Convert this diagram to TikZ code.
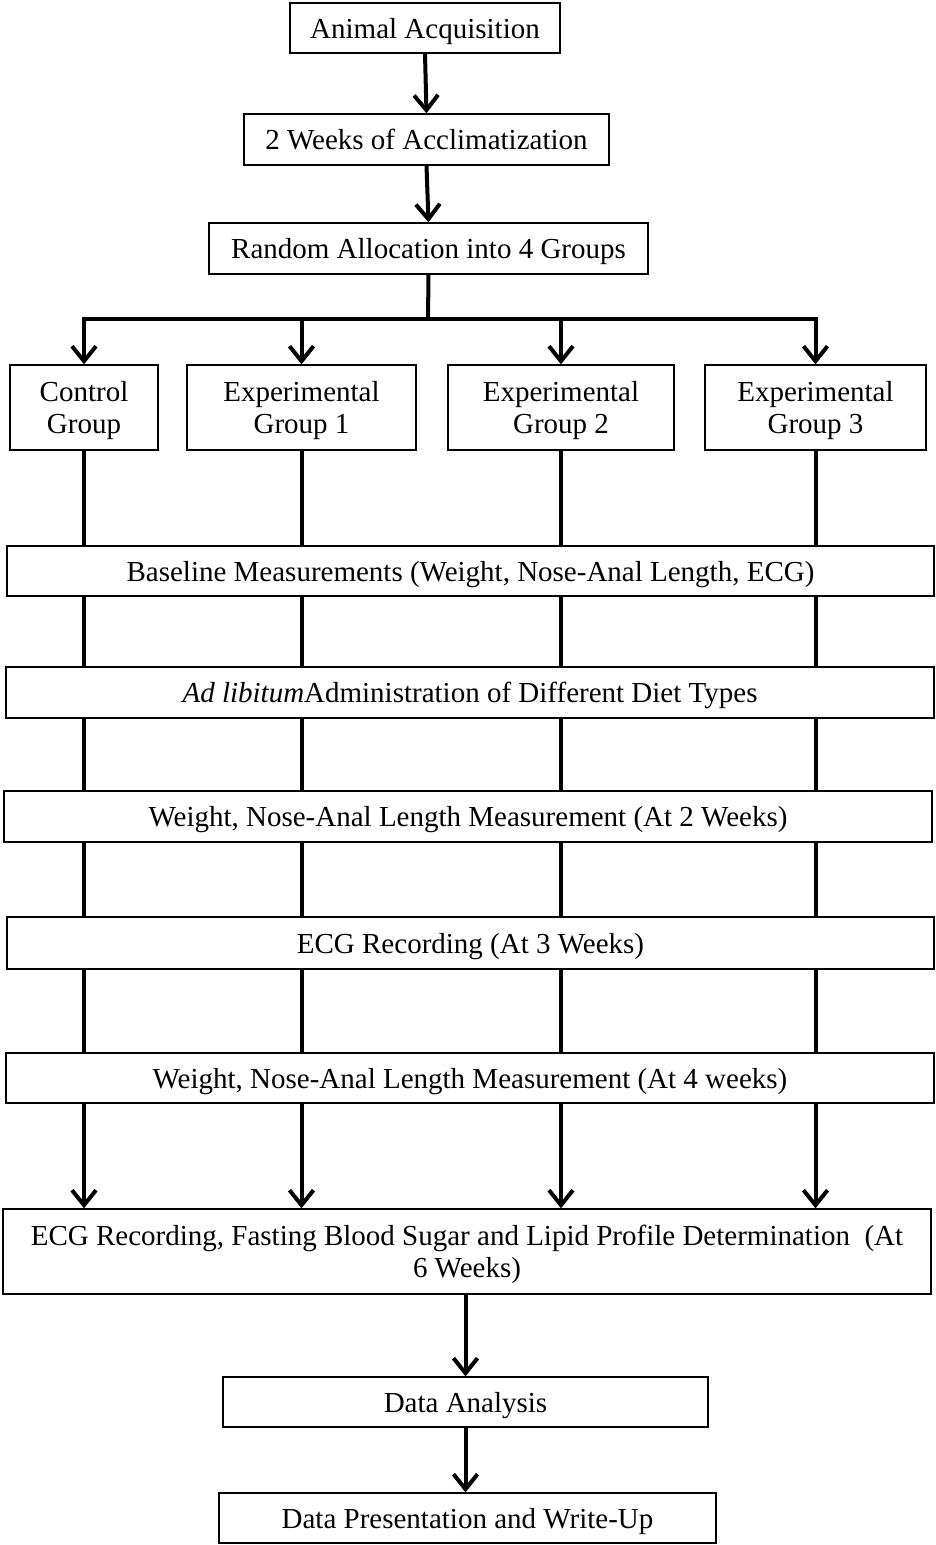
\documentclass[tikz,border=0pt]{standalone}
\usepackage{fontspec}
\setmainfont{Liberation Serif}
\usetikzlibrary{arrows.meta}
\begin{document}
\begin{tikzpicture}[x=1pt,y=-1pt,
  box/.style={draw, line width=1.3pt, inner sep=0pt, align=center, text depth=0pt, font=\fontsize{29}{32}\selectfont},
  conn/.style={line width=4pt},
  flow/.style={line width=4pt, -{Straight Barb[length=15pt,width=24pt,line width=4pt]}}]
\useasboundingbox (0,0) rectangle (935,1545);
\node[box, minimum width=270pt, minimum height=50pt] (acq)   at (425,28)      {Animal Acquisition};
\node[box, minimum width=365pt, minimum height=51pt] (accl)  at (426.5,139.5) {2 Weeks of Acclimatization};
\node[box, minimum width=439pt, minimum height=51pt] (rand)  at (428.5,248.5) {Random Allocation into 4 Groups};
\node[box, minimum width=148pt, minimum height=85pt] (ctrl)  at (84,407.5)    {Control\\Group};
\node[box, minimum width=229pt, minimum height=85pt] (g1)    at (301.5,407.5) {Experimental\\Group 1};
\node[box, minimum width=226pt, minimum height=85pt] (g2)    at (561,407.5)   {Experimental\\Group 2};
\node[box, minimum width=221pt, minimum height=85pt] (g3)    at (815.5,407.5) {Experimental\\Group 3};
\node[box, minimum width=927pt, minimum height=50pt] (base)  at (470.5,571)   {Baseline Measurements (Weight, Nose-Anal Length, ECG)};
\node[box, minimum width=928pt, minimum height=51pt] (adlib) at (470,692.5)   {\textit{Ad libitum}Administration of Different Diet Types};
\node[box, minimum width=928pt, minimum height=51pt] (w2)    at (468,816.5)   {Weight, Nose-Anal Length Measurement (At 2 Weeks)};
\node[box, minimum width=927pt, minimum height=52pt] (ecg3)  at (470.5,943)   {ECG Recording (At 3 Weeks)};
\node[box, minimum width=928pt, minimum height=50pt] (w4)    at (470,1078)    {Weight, Nose-Anal Length Measurement (At 4 weeks)};
\node[box, minimum width=928pt, minimum height=85pt] (fin)   at (467,1251.5)  {ECG Recording, Fasting Blood Sugar and Lipid Profile Determination\ \ (At\\6 Weeks)};
\node[box, minimum width=485pt, minimum height=50pt] (da)    at (465.5,1402)  {Data Analysis};
\node[box, minimum width=497pt, minimum height=50pt] (dp)    at (467.5,1518)  {Data Presentation and Write-Up};

\draw[flow] (acq.south) -- (accl.north);
\draw[flow] (accl.south) -- (rand.north);
\coordinate (bus) at (428,319);
\draw[conn] (rand.south) -- (bus);
\draw[conn, line cap=rect] (ctrl.north |- bus) -- (g3.north |- bus);
\foreach \c in {ctrl,g1,g2,g3}{
  \draw[flow] (\c.north |- bus) -- (\c.north);
  \draw[conn] (\c.south) -- (\c.south |- base.north);
  \foreach \u/\l in {base/adlib,adlib/w2,w2/ecg3,ecg3/w4}{
    \draw[conn] (\u.south -| \c.south) -- (\l.north -| \c.south);
  }
  \draw[flow] (w4.south -| \c.south) -- (fin.north -| \c.south);
}
\draw[flow] (fin.south -| da.north) -- (da.north);
\draw[flow] (da.south) -- (da.south |- dp.north);
\end{tikzpicture}
\end{document}
